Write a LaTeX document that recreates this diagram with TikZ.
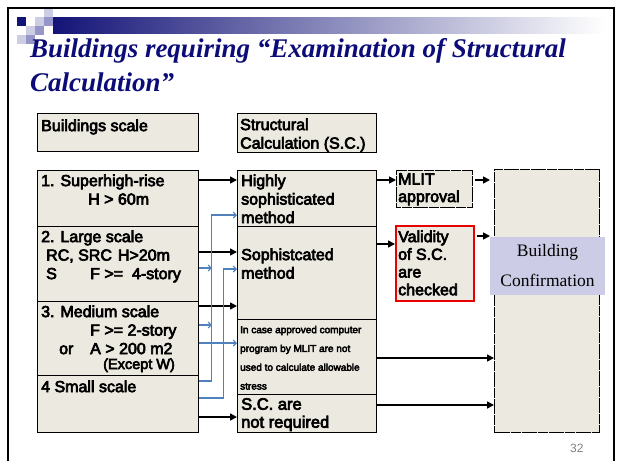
\documentclass[tikz,border=0pt]{standalone}
\usepackage{fontspec}
\setmainfont{Liberation Serif}
\newfontfamily\cellfont{Liberation Sans}[BoldFont={Liberation Sans}, BoldFeatures={FakeBold=4}]
\newfontfamily\numfont{Liberation Sans}
\usetikzlibrary{arrows.meta}

\definecolor{cellbg}{RGB}{236,233,224}
\definecolor{titleblue}{RGB}{12,12,120}
\definecolor{linkblue}{RGB}{79,129,189}
\definecolor{labelbg}{RGB}{204,204,230}
\definecolor{checkred}{RGB}{230,0,0}
\definecolor{sqdark}{RGB}{20,20,120}
\definecolor{sqmid}{RGB}{150,150,200}
\definecolor{sqlight}{RGB}{205,205,228}

\tikzset{
  cell/.style={draw, fill=cellbg, anchor=north west, inner sep=0pt, line width=0.9pt},
  celltext/.style={anchor=north west, inner sep=0pt, align=left,
    font=\cellfont\bfseries\fontsize{16}{18.5}\selectfont},
  smalltext/.style={celltext, font=\cellfont\bfseries\fontsize{10}{18.8}\selectfont},
  title/.style={anchor=north west, inner sep=0pt, align=left, text=titleblue,
    font=\bfseries\itshape\fontsize{27}{34}\selectfont},
  flow/.style={draw, line width=1.6pt, -{Triangle[length=7pt,width=7pt]}},
  feed/.style={draw=linkblue, line width=1.1pt, -{Straight Barb[length=3pt,width=6pt]}},
}

\begin{document}
\begin{tikzpicture}[x=1pt,y=-1pt]
\useasboundingbox (0,0) rectangle (619,461);

% banner
\shade[left color=sqdark, right color=white] (53,17) rectangle (605,33);
\foreach \sx/\sy/\sc in {17/17/sqdark, 35/17/sqlight, 44/9/sqlight, 44/17/sqmid,
                         26/26/sqlight, 35/26/sqmid, 17/35/sqlight, 26/35/sqmid}
  \fill[\sc] (\sx,\sy) rectangle ++(9,9);
\draw[line width=1.2pt] (8,461) -- (8,8) -- (614,8) -- (614,461);

\node[title] (title) at (30,38.5) {Buildings requiring “Examination of Structural\\Calculation”};

% left column
\node[cell, minimum width=161pt, minimum height=38pt] (hdrscale) at (37,113) {};
\node[cell, minimum width=161pt, minimum height=56pt] (scale1) at (37,170) {};
\node[cell, minimum width=161pt, minimum height=75pt] (scale2) at (37,226) {};
\node[cell, minimum width=161pt, minimum height=74pt] (scale3) at (37,301) {};
\node[cell, minimum width=161pt, minimum height=57pt] (scale4) at (37,375) {};

% middle column
\node[cell, minimum width=139pt, minimum height=39pt] (hdrcalc) at (237,113) {};
\node[cell, minimum width=139pt, minimum height=56pt] (calc1) at (237,170) {};
\node[cell, minimum width=139pt, minimum height=93pt] (calc2) at (237,226) {};
\node[cell, minimum width=139pt, minimum height=75pt] (calc3) at (237,319) {};
\node[cell, minimum width=139pt, minimum height=38pt] (calc4) at (237,394) {};

% right column
\node[cell, line width=0.9pt, dash pattern=on 5pt off 0.4pt,
      minimum width=76pt, minimum height=37pt] (mlit) at (396,170) {};
\node[cell, draw=checkred, line width=1.5pt,
      minimum width=78pt, minimum height=75pt] (valid) at (395,225) {};
\node[cell, line width=1pt, dash pattern=on 5pt off 0.4pt,
      minimum width=105pt, minimum height=263pt] (confirm) at (494,169) {};

% texts
\node[celltext] (hdrscaletxt) at (41,119.3) {Buildings scale};
\node[celltext] (scale1txt) at (41,174.3) {1. Superhigh-rise\\\hspace*{47pt}H > 60m};
\node[celltext] (scale2txt) at (41,230.3) {2. Large scale\\\hspace*{5pt}RC, SRC\hspace{6pt}H>20m\\\hspace*{5pt}\makebox[44pt][l]{S}F >=~~4-story};
\node[celltext] (scale3txt) at (41,305.3) {3. Medium scale\\\hspace*{49pt}F >= 2-story\\\hspace*{18pt}\makebox[31pt][l]{or}A > 200 m2};
\node[anchor=base west, inner sep=0pt, font=\cellfont\bfseries\fontsize{14.5}{16}\selectfont] (excepttxt) at (103,369) {(Except W)};
\node[celltext] (scale4txt) at (41,380.3) {4 Small scale};

\node[celltext] (hdrcalctxt) at (240,118.3) {Structural\\Calculation (S.C.)};
\node[celltext] (calc1txt) at (241,174.3) {Highly\\sophisticated\\method};
\node[celltext] (calc2txt) at (241,248.3) {Sophistcated\\method};
\node[smalltext] (calc3txt) at (240,325.7) {In case approved computer\\program by MLIT are not\\used to calculate allowable\\stress};
\node[celltext, font=\cellfont\bfseries\fontsize{16.5}{18}\selectfont] (calc4txt) at (241,398) {S.C. are\\not required};

\node[celltext, font=\cellfont\bfseries\fontsize{16}{17.5}\selectfont] (mlittxt) at (398,173.3) {MLIT\\approval};
\node[celltext, font=\cellfont\bfseries\fontsize{16}{17.7}\selectfont] (validtxt) at (398,230.3) {Validity\\of S.C.\\are\\checked};

% black flow
\foreach \src/\dy/\dst in {scale1/10/calc1, scale2/26/calc2, scale3/5/calc2, scale4/42/calc4,
                           calc1/10/mlit, calc2/18/valid, calc3/39/confirm, calc4/11/confirm}{
  \coordinate (out) at ([yshift=-\dy pt]\src.north east);
  \draw[flow] (out) -- (out -| \dst.west);
}
\coordinate (mout) at ([yshift=-10pt]mlit.north east);
\draw[flow, shorten <=2pt, shorten >=4pt] (mout) -- (mout -| confirm.west);
\coordinate (vout) at ([yshift=-11pt]valid.north east);
\draw[flow, shorten <=2pt, shorten >=4pt] (vout) -- (vout -| confirm.west);

% blue links
\coordinate (spineA) at ([xshift=13pt]scale1.east);
\coordinate (spineB) at ([xshift=25pt]scale1.east);
\coordinate (fA) at ([yshift=-6pt]scale4.north east);
\coordinate (tA) at ([yshift=-45pt]calc1.north west);
\draw[feed] (fA) -| (spineA |- tA) -- (tA);
\coordinate (fB) at ([yshift=-23pt]scale4.north east);
\coordinate (tB) at ([yshift=-43pt]calc2.north west);
\draw[feed] (fB) -| (spineB |- tB) -- (tB);
\coordinate (fC) at ([yshift=-42pt]scale2.north east);
\draw[feed] (fC) -- (fC -| spineA);
\coordinate (fD) at ([yshift=-24pt]scale3.north east);
\draw[feed] (fD) -- (fD -| spineA);
\coordinate (fE) at ([yshift=-42pt]scale3.north east);
\draw[feed] (fE) -- (fE -| calc3.west);

\node[fill=labelbg, inner sep=0pt, minimum width=115pt, minimum height=58pt, align=center,
      font=\fontsize{17.5}{30}\selectfont] (conflabel) at (547.5,266) {Building\\Confirmation};

\node[anchor=base west, inner sep=0pt, text=gray, font=\numfont\fontsize{12}{14}\selectfont] (pagenum) at (570,452) {32};
\end{tikzpicture}
\end{document}
